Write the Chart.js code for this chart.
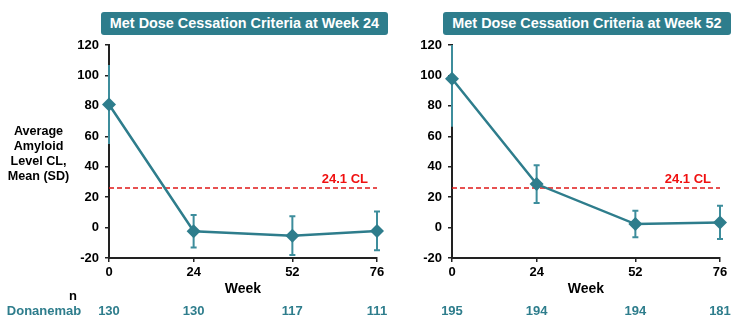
<!DOCTYPE html>
<html>
<head>
<meta charset="utf-8">
<script src="https://cdn.jsdelivr.net/npm/chart.js@4/dist/chart.umd.min.js"></script>
<style>
  html, body { margin: 0; padding: 0; background: #fff; }
  #wrap { position: relative; width: 751px; height: 331px; overflow: hidden; font-family: "Liberation Sans", Arial, sans-serif; }
  canvas { position: absolute; left: 0; top: 0; }
  .banner { position: absolute; top: 12px; height: 23px; background: #2e7d8c; color: #fff; font-weight: bold; font-size: 14.4px; line-height: 23px; text-align: center; border-radius: 3px; white-space: nowrap; }
  .txt { position: absolute; font-weight: bold; white-space: nowrap; }
  .teal { color: #2e7d8c; }
</style>
</head>
<body>
<div id="wrap">
  <canvas id="c1" width="751" height="331"></canvas>
  <canvas id="c2" width="751" height="331"></canvas>
</div>
<script>
// ---- data ----
const weeks = [0, 24, 52, 76];
const xTicks = [0, 24, 52, 76];
const yTicks = [-20, 0, 20, 40, 60, 80, 100, 120];
const titles = ["Met Dose Cessation Criteria at Week 24", "Met Dose Cessation Criteria at Week 52"];
const meanW24 = [80.9, -2.4, -5.3, -2.2];
const sdW24 = [26.0, 10.7, 12.7, 12.7];
const meanW52 = [97.8, 28.6, 2.3, 3.4];
const sdW52 = [31.5, 12.4, 8.7, 10.9];
const nW24 = [130, 130, 117, 111];
const nW52 = [195, 194, 194, 181];
const refValue = 26;
const refLabel = "24.1 CL";
const yTitleLines = ["Average", "Amyloid", "Level CL,", "Mean (SD)"];
const nLabel = "n";
const groupLabel = "Donanemab";
const xTitle = "Week";

const TEAL = "#2e7d8c";
const BAR = "#3d8d9c";
const FONT = "'Liberation Sans', Arial, sans-serif";

const errorBarPlugin = {
  id: "errbars",
  beforeDatasetsDraw(chart, args, opts) {
    const { ctx, chartArea } = chart;
    const xs = chart.scales.x, ys = chart.scales.y;
    ctx.save();
    ctx.beginPath();
    ctx.rect(0, chartArea.top, chart.width, chartArea.bottom - chartArea.top);
    ctx.clip();
    ctx.strokeStyle = BAR;
    ctx.lineWidth = 2;
    opts.means.forEach((m, i) => {
      const x = xs.getPixelForValue(opts.weeks[i]);
      const yt = ys.getPixelForValue(m + opts.sds[i]);
      const yb = ys.getPixelForValue(m - opts.sds[i]);
      ctx.beginPath();
      ctx.moveTo(x, yt); ctx.lineTo(x, yb);
      if (i > 0) {
        ctx.moveTo(x - 3, yt); ctx.lineTo(x + 3, yt);
        ctx.moveTo(x - 3, yb); ctx.lineTo(x + 3, yb);
      }
      ctx.stroke();
    });
    ctx.restore();
  },
  afterDatasetsDraw(chart, args, opts) {
    const { ctx } = chart;
    const xs = chart.scales.x, ys = chart.scales.y;
    ctx.save();
    ctx.fillStyle = "#f01010";
    ctx.font = "bold 13px " + FONT;
    ctx.textAlign = "right";
    ctx.textBaseline = "alphabetic";
    ctx.fillText(opts.label, xs.right - 9, ys.getPixelForValue(opts.ref) - 5);
    ctx.restore();
  }
};

function makeChart(id, means, sds, left) {
  const areaLeft = left, areaRight = left + 268;
  const yW = 50, xH = 30;
  return new Chart(document.getElementById(id), {
    type: "line",
    data: {
      datasets: [
        {
          data: weeks.map((w, i) => ({ x: w, y: means[i] })),
          borderColor: TEAL,
          backgroundColor: TEAL,
          borderWidth: 2.5,
          pointStyle: "rectRot",
          pointRadius: 7,
          pointHoverRadius: 7,
          pointBorderWidth: 0,
          clip: false,
          order: 1
        },
        {
          data: [{ x: weeks[0], y: refValue }, { x: weeks[weeks.length - 1], y: refValue }],
          borderColor: "#e01818",
          borderWidth: 1.5,
          borderDash: [5, 3],
          pointRadius: 0,
          order: 2
        }
      ]
    },
    options: {
      responsive: false,
      animation: false,
      events: [],
      layout: { padding: { left: areaLeft - yW, right: 751 - areaRight, top: 45, bottom: 331 - 258 - xH } },
      plugins: {
        legend: { display: false },
        tooltip: { enabled: false },
        errbars: { means: means, sds: sds, weeks: weeks, ref: refValue, label: refLabel }
      },
      scales: {
        x: {
          type: "linear", min: 0, max: 76,
          afterBuildTicks(s) { s.ticks = xTicks.map(v => ({ value: v })); },
          afterFit(s) { s.height = xH; },
          grid: { drawOnChartArea: false, drawTicks: true, tickLength: 4, color: "#222", lineWidth: 1.5 },
          border: { display: true, color: "#222", width: 2 },
          ticks: { color: "#000", font: { family: FONT, size: 13, weight: "bold" }, padding: 3, maxRotation: 0 }
        },
        y: {
          min: -20, max: 120,
          afterBuildTicks(s) { s.ticks = yTicks.map(v => ({ value: v })); },
          afterFit(s) { s.width = yW; },
          grid: { drawOnChartArea: false, drawTicks: true, tickLength: 4, color: "#222", lineWidth: 1.5 },
          border: { display: true, color: "#222", width: 2 },
          ticks: { color: "#000", font: { family: FONT, size: 13, weight: "bold" }, padding: 6 }
        }
      }
    },
    plugins: [errorBarPlugin]
  });
}

const c1 = makeChart("c1", meanW24, sdW24, 109);
const c2 = makeChart("c2", meanW52, sdW52, 452);

const wrap = document.getElementById("wrap");
function addText(html, cls, style) {
  const d = document.createElement("div");
  d.className = cls;
  d.innerHTML = html;
  Object.assign(d.style, style);
  wrap.appendChild(d);
  return d;
}
addText(titles[0], "banner", { left: "101px", width: "287px" });
addText(titles[1], "banner", { left: "443px", width: "288px" });

// y axis title
yTitleLines.forEach((t, i) => {
  addText(t, "txt", { left: "0px", width: "77px", textAlign: "center", top: (124 + i * 15) + "px", fontSize: "12.6px", lineHeight: "15px", color: "#000" });
});

// x titles and n rows
[[c1, nW24], [c2, nW52]].forEach(([ch, ns]) => {
  const xs = ch.scales.x;
  const mid = (xs.left + xs.right) / 2;
  addText(xTitle, "txt", { left: (mid - 60) + "px", width: "120px", textAlign: "center", top: "279px", fontSize: "14px", lineHeight: "18px", color: "#000" });
  ns.forEach((n, i) => {
    const x = xs.getPixelForValue(weeks[i]);
    addText(String(n), "txt teal", { left: (x - 30) + "px", width: "60px", textAlign: "center", top: "302px", fontSize: "13px", lineHeight: "17px" });
  });
});
addText(nLabel, "txt", { left: "63px", width: "20px", textAlign: "center", top: "287px", fontSize: "13px", lineHeight: "17px", color: "#000" });
addText(groupLabel, "txt teal", { left: "0px", width: "88px", textAlign: "center", top: "302px", fontSize: "13px", lineHeight: "17px" });
</script>
</body>
</html>
